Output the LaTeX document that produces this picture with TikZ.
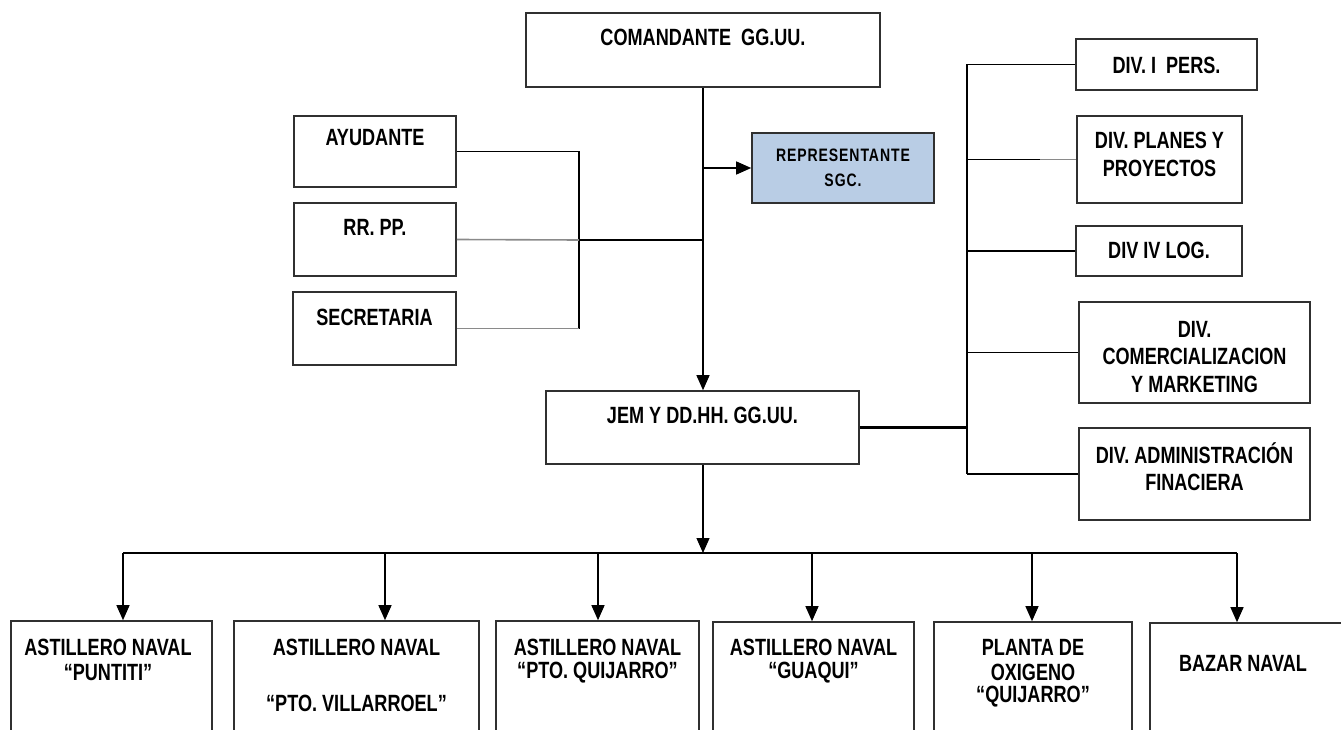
\documentclass[tikz,border=0pt]{standalone}
\usepackage{fontspec}
\setmainfont{Liberation Sans}[FakeStretch=0.77]
\newfontfamily\repfont{Liberation Sans}[FakeStretch=0.78, LetterSpace=5]
\usetikzlibrary{arrows.meta}
\definecolor{boxline}{HTML}{303030}
\definecolor{repfill}{HTML}{B9CDE5}
\definecolor{greyline}{HTML}{8A8A8A}
\begin{document}
\begin{tikzpicture}[x=1pt,y=-1pt,
  orgbox/.style={draw=boxline, line width=1.6pt, rectangle, inner sep=0pt, fill=white},
  txt/.style={font=\bfseries\fontsize{23.5}{27}\selectfont, align=center, inner sep=0pt, text=black},
  smalltxt/.style={font=\repfont\bfseries\fontsize{18}{22}\selectfont, align=center, inner sep=0pt, text=black},
  ln/.style={draw=black, line width=1.3pt},
  thickln/.style={draw=black, line width=3pt},
  greyln/.style={draw=greyline, line width=1.6pt},
  arr/.style={ln, -{Triangle[length=15pt,width=13pt]}}]
\useasboundingbox (0,0) rectangle (1341,730);
\clip (0,0) rectangle (1341,730);

% ---- boxes ----
\node[orgbox, minimum width=354pt, minimum height=74pt] (com) at (703,50) {};
\node[orgbox, minimum width=162pt, minimum height=71pt] (ayu) at (375,151.5) {};
\node[orgbox, minimum width=162pt, minimum height=73pt] (rrpp) at (375,239.5) {};
\node[orgbox, minimum width=163pt, minimum height=73pt] (sec) at (374.5,328.5) {};
\node[orgbox, fill=repfill, minimum width=182pt, minimum height=70pt] (rep) at (843,168) {};
\node[orgbox, minimum width=313pt, minimum height=73pt] (jem) at (702.5,427.5) {};
\node[orgbox, minimum width=181pt, minimum height=51pt] (d1) at (1166.5,64.5) {};
\node[orgbox, minimum width=165pt, minimum height=87pt] (d2) at (1159.5,159.5) {};
\node[orgbox, minimum width=166pt, minimum height=50pt] (d3) at (1159,251) {};
\node[orgbox, minimum width=231pt, minimum height=101pt] (d4) at (1194.5,352.5) {};
\node[orgbox, minimum width=231pt, minimum height=92pt] (d5) at (1194.5,474) {};
\node[orgbox, minimum width=201pt, minimum height=140pt] (b1) at (111.5,691) {};
\node[orgbox, minimum width=245pt, minimum height=140pt] (b2) at (356.5,691) {};
\node[orgbox, minimum width=203pt, minimum height=140pt] (b3) at (597.5,691) {};
\node[orgbox, minimum width=201pt, minimum height=140pt] (b4) at (813.5,692) {};
\node[orgbox, minimum width=198pt, minimum height=140pt] (b5) at (1033,692) {};
\node[orgbox, minimum width=205pt, minimum height=140pt] (b6) at (1252.5,693) {};

% ---- texts ----
\node[txt] (tcom) at (703,37) {COMANDANTE~ GG.UU.};
\node[txt] (tayu) at (375,138) {AYUDANTE};
\node[txt] (trrpp) at (375,227) {RR. PP.};
\node[txt] (tsec) at (374.5,317) {SECRETARIA};
\node[smalltxt] (trep1) at (843,155) {REPRESENTANTE};
\node[smalltxt] (trep2) at (843,180) {SGC.};
\node[txt] (tjem) at (702.5,415) {JEM Y DD.HH. GG.UU.};
\node[txt] (td1) at (1166.5,65) {DIV. I~ PERS.};
\node[txt] (td2a) at (1159.5,140) {DIV. PLANES Y};
\node[txt] (td2b) at (1159.5,168) {PROYECTOS};
\node[txt] (td3) at (1159,250) {DIV IV LOG.};
\node[txt] (td4a) at (1194.5,329) {DIV.};
\node[txt] (td4b) at (1194.5,356) {COMERCIALIZACION};
\node[txt] (td4c) at (1194.5,384) {Y MARKETING};
\node[txt] (td5a) at (1194.5,453) {DIV. ADMINISTRACIÓN};
\node[txt] (td5b) at (1194.5,482) {FINACIERA};
\node[txt] (tb1a) at (108,647) {ASTILLERO NAVAL};
\node[txt] (tb1b) at (108,673) {“PUNTITI”};
\node[txt] (tb2a) at (356.5,647) {ASTILLERO NAVAL};
\node[txt] (tb2b) at (356.5,703) {“PTO. VILLARROEL”};
\node[txt] (tb3a) at (597.5,647) {ASTILLERO NAVAL};
\node[txt] (tb3b) at (597.5,673) {“PTO. QUIJARRO”};
\node[txt] (tb4a) at (813.5,647) {ASTILLERO NAVAL};
\node[txt] (tb4b) at (813.5,673) {“GUAQUI”};
\node[txt] (tb5a) at (1033,647) {PLANTA DE};
\node[txt] (tb5b) at (1033,672) {OXIGENO};
\node[txt] (tb5c) at (1033,697) {“QUIJARRO”};
\node[txt] (tb6) at (1243,663) {BAZAR NAVAL};

% ---- junction coordinates ----
\coordinate (jrep) at (com.south |- rep.west);
\coordinate (jrr) at (703,240);
\coordinate (brk) at (579,240);
\coordinate (brkT) at (579,151.5);
\coordinate (brkB) at (579,328.5);
\coordinate (busT) at (967,64.5);
\coordinate (busJ) at (967,427.5);
\coordinate (busB) at (967,474);
\coordinate (bar) at (703,553);
\coordinate (barL) at (123,553);
\coordinate (barR) at (1237,553);
\coordinate (k1) at (123,553);
\coordinate (k2) at (385,553);
\coordinate (k3) at (598,553);
\coordinate (k4) at (812,553);
\coordinate (k5) at (1032,553);
\coordinate (k6) at (1237,553);
\coordinate (gpl) at (1040,159.5);

% ---- connectors ----
\draw[arr] (com.south) -- (jem.north -| com.south);
\draw[arr] (jrep) -- (rep.west);
\draw[ln] (ayu.east) -- (brkT) -- (brkB);
\draw[greyln] (sec.east) -- (brkB);
\draw[greyln] (rrpp.east) -- (brk);
\draw[ln] (brk) -- (jrr);
\draw[thickln] (jem.east) -- (busJ);
\draw[ln] (busT) -- (busB);
\draw[ln] (busT) -- (d1.west);
\draw[ln] (busT |- d2.west) -- (gpl);
\draw[greyln] (gpl) -- (d2.west);
\draw[ln] (busT |- d3.west) -- (d3.west);
\draw[ln] (busT |- d4.west) -- (d4.west);
\draw[ln] (busB) -- (d5.west);
\draw[arr] (jem.south -| com.south) -- (bar);
\draw[ln] (barL) -- (barR);
\draw[arr] (k1) -- (k1 |- b1.north);
\draw[arr] (k2) -- (k2 |- b2.north);
\draw[arr] (k3) -- (k3 |- b3.north);
\draw[arr] (k4) -- (k4 |- b4.north);
\draw[arr] (k5) -- (k5 |- b5.north);
\draw[arr] (k6) -- (k6 |- b6.north);
\end{tikzpicture}
\end{document}
